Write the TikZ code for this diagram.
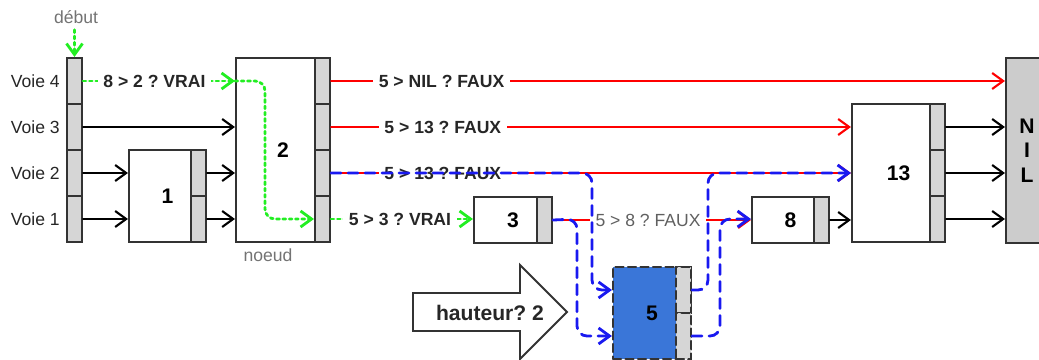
\documentclass[tikz,border=0pt]{standalone}
\usepackage{fontspec}
\setmainfont{Liberation Sans}
\usetikzlibrary{arrows.meta}
\definecolor{trait}{RGB}{51,51,51}
\definecolor{grisclair}{RGB}{214,214,214}
\definecolor{vert}{RGB}{34,238,34}
\definecolor{rouge}{RGB}{255,0,0}
\definecolor{bleu}{RGB}{25,25,240}
\definecolor{bleunoeud}{RGB}{58,118,216}
\frenchspacing

\begin{document}
\begin{tikzpicture}[x=0.2mm,y=-0.2mm,>={Straight Barb[length=2.2mm,width=3.2mm]},line cap=round,
  boite/.style={draw=trait,line width=1.2pt,fill=white,inner sep=0pt,font=\large\bfseries},
  case/.style={draw=trait,line width=1.2pt,fill=grisclair,minimum width=3mm,minimum height=9.2mm,inner sep=0pt},
  fleche/.style={->,line width=1.2pt},
  test/.style={fill=white,font=\bfseries,text=black!85},
  vrai/.style={->,vert,dotted,line width=1.6pt},
  faux/.style={->,rouge,line width=1.2pt},
  chemin/.style={->,bleu,line width=1.6pt,dash pattern=on 2mm off 1.4mm,rounded corners=2mm}]
\useasboundingbox (0,0) rectangle (1039,360);
% tete des voies
\node[case] (h4) at (74.5,81) {};
\node[case] (h3) at (74.5,127) {};
\node[case] (h2) at (74.5,173) {};
\node[case] (h1) at (74.5,219) {};
\node[anchor=east,text=black!85] (l4) at (h4.west) {Voie 4};
\node[anchor=east,text=black!85] (l3) at (h3.west) {Voie 3};
\node[anchor=east,text=black!85] (l2) at (h2.west) {Voie 2};
\node[anchor=east,text=black!85] (l1) at (h1.west) {Voie 1};
\node[text=gray!90!black] (debut) at (76,17) {début};
% noeuds
\node[boite,minimum width=15.4mm,minimum height=18.4mm] (n1) at (167.5,196) {1};
\node[case] (n1v2) at (198.5,173) {};
\node[case] (n1v1) at (198.5,219) {};
\node[boite,minimum width=18.8mm,minimum height=36.8mm] (n2) at (283,150) {2};
\node[case] (n2v4) at (322.5,81) {};
\node[case] (n2v3) at (322.5,127) {};
\node[case] (n2v2) at (322.5,173) {};
\node[case] (n2v1) at (322.5,219) {};
\node[text=gray!90!black] (nom) at (268,255) {noeud};
\node[boite,minimum width=15.6mm,minimum height=9.2mm] (n3) at (513,220) {3};
\node[case] (n3v1) at (544.5,220) {};
\node[boite,minimum width=15.4mm,minimum height=9.2mm] (n8) at (790.5,220) {8};
\node[case] (n8v1) at (821.5,220) {};
\node[boite,minimum width=18.6mm,minimum height=27.6mm] (n13) at (898.5,173) {13};
\node[case] (n13v3) at (937.5,127) {};
\node[case] (n13v2) at (937.5,173) {};
\node[case] (n13v1) at (937.5,219) {};
\node[case,fill=gray!40,minimum width=8.4mm,minimum height=37mm,align=center,font=\large\bfseries] (nil) at (1027,150.5) {N\\I\\L};
% nouveau noeud
\node[boite,fill=bleunoeud,dash pattern=on 1.6mm off 0.9mm,minimum width=15.6mm,minimum height=18.4mm] (n5) at (652,313) {5};
\node[case,dash pattern=on 1.6mm off 0.9mm] (n5v2) at (683.5,290) {};
\node[case,dash pattern=on 1.6mm off 0.9mm] (n5v1) at (683.5,336) {};
\draw[trait,line width=1.1pt,fill=white] (413,293) -- (520,293) -- (520,265) -- (567,312) -- (520,359) -- (520,331) -- (413,331) -- cycle;
\node[font=\large\bfseries,text=black!85] (hauteur) at (490,313) {hauteur? 2};
% liens
\draw[fleche] (h3.east) -- (n2.west |- h3.east);
\draw[fleche] (h2.east) -- (n1.west |- h2.east);
\draw[fleche] (h1.east) -- (n1.west |- h1.east);
\draw[fleche] (n1v2.east) -- (n2.west |- n1v2.east);
\draw[fleche] (n1v1.east) -- (n2.west |- n1v1.east);
\draw[fleche] (n8v1.east) -- (n13.west |- n8v1.east);
\draw[fleche] (n13v3.east) -- (nil.west |- n13v3.east);
\draw[fleche] (n13v2.east) -- (nil.west |- n13v2.east);
\draw[fleche] (n13v1.east) -- (nil.west |- n13v1.east);
% tests faux
\draw[faux] (n2v4.east) -- node[test,pos=0.164] (t1) {5 > NIL ? FAUX} (nil.west |- n2v4.east);
\draw[faux] (n2v3.east) -- node[test,pos=0.215] (t2) {5 > 13 ? FAUX} (n13.west |- n2v3.east);
\draw[faux] (n2v2.east) -- node[test,pos=0.215] (t3) {5 > 13 ? FAUX} (n13.west |- n2v2.east);
\draw[faux] (n3v1.east) -- node[fill=white,text=gray!75!black,pos=0.48] (t4) {5 > 8 ? FAUX} (n8.west |- n3v1.east);
% tests vrais
\draw[vrai] (debut.south -| h4.north) -- (h4.north);
\draw[vrai] (h4.east) -- node[test,pos=0.47] (t5) {8 > 2 ? VRAI} (n2.west |- h4.east);
\coordinate (g) at (265,219);
\draw[vrai,rounded corners=2mm] (n2.west |- h4.east) -| (g) -- (n2v1.west);
\draw[vrai] (n2v1.east) -- node[test,pos=0.486] (t6) {5 > 3 ? VRAI} (n3.west |- n2v1.east);
% chemin d'insertion
\coordinate (b1) at (592,173);
\coordinate (b2) at (577,219);
\coordinate (b3) at (708,173);
\coordinate (b4) at (720,219);
\draw[chemin] (n2v2.east) -- (b1) -- (b1 |- n5v2) -- (n5.west |- n5v2);
\draw[chemin] (n3v1.east) -- (b2) -- (b2 |- n5v1) -- (n5.west |- n5v1);
\draw[chemin] (n5v2.east) -- (b3 |- n5v2) -- (b3) -- (n13.west |- b3);
\draw[chemin] (n5v1.east) -- (b4 |- n5v1) -- (b4) -- (n8.west |- b4);
\end{tikzpicture}
\end{document}
